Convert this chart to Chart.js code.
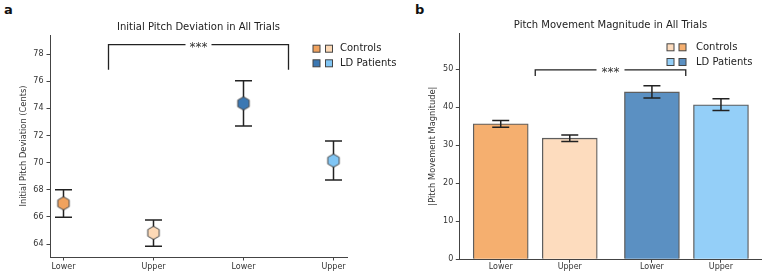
<!DOCTYPE html>
<html>
<head>
<meta charset="utf-8">
<script src="https://cdn.jsdelivr.net/npm/chart.js@4.4.1/dist/chart.umd.min.js"></script>
<style>
  html, body { margin: 0; padding: 0; background: #fff; }
  #wrap { position: relative; width: 767px; height: 276px; font-family: "DejaVu Sans", sans-serif; }
  canvas { position: absolute; top: 0; }
  .panel { position: absolute; font-weight: bold; font-size: 13px; color: #111; }
</style>
</head>
<body>
<div id="wrap">
  <div class="panel" style="left:4px; top:2px;">a</div>
  <div class="panel" style="left:415px; top:2px;">b</div>
  <canvas id="devChart" width="430" height="276" style="left:0; width:430px; height:276px;"></canvas>
  <canvas id="magChart" width="384" height="276" style="left:383px; width:384px; height:276px;"></canvas>
</div>
<script>
// shared categories
var conditions = ['Lower', 'Upper', 'Lower', 'Upper'];
var groups = ['Controls', 'LD Patients'];

// panel a: initial pitch deviation (cents), mean with error range
var devPos = [0, 1, 2, 3];
var devMean = [67.0, 64.83, 74.36, 70.15];
var devLow = [65.97, 63.85, 72.7, 68.72];
var devHigh = [68.0, 65.77, 76.03, 71.6];
var devColors = ['#f0a25e', '#fdd9b6', '#3b78b3', '#80c5f4'];

// panel b: |pitch movement magnitude|
var magPos = [0, 1, 2.19, 3.19];
var magMean = [35.6, 31.85, 44.0, 40.6];
var magLow = [34.7, 30.95, 42.4, 39.1];
var magHigh = [36.5, 32.7, 45.6, 42.2];
var magColors = ['#f5af6f', '#fddcbe', '#5b90c2', '#94cff8'];

var FONT = '"DejaVu Sans", sans-serif';
Chart.defaults.font.family = FONT;
Chart.defaults.color = '#333';
Chart.defaults.animation = false;

function hexagon(fill) {
  var c = document.createElement('canvas');
  c.width = 16; c.height = 16;
  var g = c.getContext('2d');
  var r = 6.6;
  g.beginPath();
  for (var k = 0; k < 6; k++) {
    var a = Math.PI / 2 + k * Math.PI / 3;
    var px = 8 + r * Math.cos(a), py = 8 - r * Math.sin(a);
    if (k === 0) g.moveTo(px, py); else g.lineTo(px, py);
  }
  g.closePath();
  g.fillStyle = fill;
  g.fill();
  g.lineWidth = 1;
  g.strokeStyle = '#444';
  g.stroke();
  return c;
}

function drawErrors(chart, opts) {
  var ctx = chart.ctx, xs = chart.scales.x, ys = chart.scales.y;
  ctx.save();
  ctx.strokeStyle = '#222';
  ctx.lineWidth = 1.5;
  for (var i = 0; i < opts.pos.length; i++) {
    var x = xs.getPixelForValue(opts.pos[i]);
    var y0 = ys.getPixelForValue(opts.low[i]);
    var y1 = ys.getPixelForValue(opts.high[i]);
    ctx.beginPath();
    ctx.moveTo(x, y0); ctx.lineTo(x, y1);
    ctx.moveTo(x - 8.5, y0); ctx.lineTo(x + 8.5, y0);
    ctx.moveTo(x - 8.5, y1); ctx.lineTo(x + 8.5, y1);
    ctx.stroke();
  }
  ctx.restore();
}

// error bars: under hexagons, over bars
var errorBars = {
  id: 'errorBars',
  beforeDatasetsDraw: function(chart, args, opts) { if (!opts.overTop) drawErrors(chart, opts); },
  afterDatasetsDraw: function(chart, args, opts) { if (opts.overTop) drawErrors(chart, opts); }
};

// title, significance bracket and the paired-swatch legend
var decor = {
  id: 'decor',
  afterDraw: function(chart, args, o) {
    var ctx = chart.ctx, ca = chart.chartArea, xs = chart.scales.x, ys = chart.scales.y;
    ctx.save();
    ctx.fillStyle = '#222';
    ctx.font = '10px ' + FONT;
    ctx.textAlign = 'center';
    ctx.textBaseline = 'middle';
    ctx.fillText(o.title, (ca.left + ca.right) / 2, o.titleY);

    var bx0 = xs.getPixelForValue(o.br[0]), bx1 = xs.getPixelForValue(o.br[1]);
    var byT = ys.getPixelForValue(o.br[2]), byB = ys.getPixelForValue(o.br[3]);
    var mid = (bx0 + bx1) / 2;
    ctx.strokeStyle = '#222';
    ctx.lineWidth = 1.3;
    ctx.beginPath();
    ctx.moveTo(bx0, byB); ctx.lineTo(bx0, byT); ctx.lineTo(mid - o.gap, byT);
    ctx.moveTo(mid + o.gap, byT); ctx.lineTo(bx1, byT); ctx.lineTo(bx1, byB);
    ctx.stroke();
    ctx.fillStyle = '#333';
    ctx.font = '12px ' + FONT;
    ctx.fillText('***', mid, byT + 3);

    ctx.textAlign = 'left';
    ctx.font = '10px ' + FONT;
    for (var r = 0; r < groups.length; r++) {
      var y = o.legY[r];
      for (var s = 0; s < 2; s++) {
        ctx.fillStyle = o.legColors[r][s];
        ctx.fillRect(ca.right + o.legX[s], y - 3.5, 7, 7);
        ctx.strokeStyle = '#444';
        ctx.lineWidth = 1;
        ctx.strokeRect(ca.right + o.legX[s], y - 3.5, 7, 7);
      }
      ctx.fillStyle = '#222';
      ctx.fillText(groups[r], ca.right + o.legX[2], y);
    }
    ctx.restore();
  }
};

function axisOpts(extra) {
  var base = {
    grid: { display: true, drawOnChartArea: false, drawTicks: true, tickLength: 3.5, tickColor: '#444', lineWidth: 1 },
    border: { display: true, color: '#444', width: 1 },
    ticks: { font: { size: 8 }, color: '#333', autoSkip: false, maxRotation: 0 }
  };
  return Object.assign(base, extra);
}

new Chart(document.getElementById('devChart'), {
  type: 'scatter',
  data: {
    datasets: [{
      data: devPos.map(function(x, i) { return { x: x, y: devMean[i] }; }),
      pointStyle: devColors.map(hexagon),
      pointRadius: 7
    }]
  },
  options: {
    responsive: false,
    layout: { padding: { left: 0, right: 83, top: 35, bottom: 0 } },
    plugins: {
      legend: { display: false },
      tooltip: { enabled: false },
      errorBars: { pos: devPos, low: devLow, high: devHigh },
      decor: {
        title: 'Initial Pitch Deviation in All Trials', titleY: 27.7,
        br: [0.5, 2.5, 78.69, 76.84], gap: 13,
        legX: [-34, -21.5, -7], legY: [48.7, 63.3],
        legColors: [[devColors[0], devColors[1]], [devColors[2], devColors[3]]]
      }
    },
    scales: {
      x: axisOpts({
        type: 'linear', min: -0.15, max: 3.15,
        afterBuildTicks: function(s) { s.ticks = devPos.map(function(v) { return { value: v }; }); },
        afterFit: function(s) { s.height = 19; }
      }),
      y: axisOpts({
        min: 63.05, max: 79.4,
        afterFit: function(s) { s.width = 50; },
        title: { display: true, text: 'Initial Pitch Deviation (Cents)', font: { size: 8.3 }, color: '#333', padding: { top: 19, bottom: 0 } }
      })
    }
  },
  plugins: [errorBars, decor]
});

// tick settings that need the label arrays
var devChart = Chart.getChart('devChart');
devChart.options.scales.x.ticks.callback = function(v, i) { return conditions[i]; };
devChart.options.scales.x.ticks.padding = 1.5;
devChart.options.scales.y.ticks.stepSize = 2;
devChart.options.scales.y.ticks.includeBounds = false;
devChart.options.scales.y.ticks.padding = 3;
devChart.update();

new Chart(document.getElementById('magChart'), {
  type: 'bar',
  data: {
    datasets: [{
      data: magPos.map(function(x, i) { return { x: x, y: magMean[i] }; }),
      backgroundColor: magColors,
      borderColor: 'rgba(40,40,40,0.75)',
      borderWidth: 1.3,
      barThickness: 55
    }]
  },
  options: {
    responsive: false,
    layout: { padding: { left: 0, right: 5.3, top: 33, bottom: 0 } },
    plugins: {
      legend: { display: false },
      tooltip: { enabled: false },
      errorBars: { pos: magPos, low: magLow, high: magHigh, overTop: true },
      decor: {
        title: 'Pitch Movement Magnitude in All Trials', titleY: 25,
        br: [0.5, 2.68, 49.8, 48.2], gap: 14,
        legX: [-94.7, -82.7, -65.7], legY: [47.3, 62],
        legColors: [[magColors[1], magColors[0]], [magColors[3], magColors[2]]]
      }
    },
    scales: {
      x: axisOpts({
        type: 'linear', min: -0.6, max: 3.78, offset: false,
        afterBuildTicks: function(s) { s.ticks = magPos.map(function(v) { return { value: v }; }); },
        afterFit: function(s) { s.height = 16.7; }
      }),
      y: axisOpts({
        min: 0, max: 59.5,
        afterFit: function(s) { s.width = 76.3; },
        title: { display: true, text: '|Pitch Movement Magnitude|', font: { size: 8.3 }, color: '#333', padding: { top: 45, bottom: 0 } }
      })
    }
  },
  plugins: [errorBars, decor]
});

var magChart = Chart.getChart('magChart');
magChart.options.scales.x.grid.offset = false;
magChart.options.scales.x.ticks.callback = function(v, i) { return conditions[i]; };
magChart.options.scales.x.ticks.padding = -0.5;
magChart.options.scales.y.ticks.stepSize = 10;
magChart.options.scales.y.ticks.includeBounds = false;
magChart.options.scales.y.ticks.padding = 2.5;
magChart.update();
</script>
</body>
</html>
